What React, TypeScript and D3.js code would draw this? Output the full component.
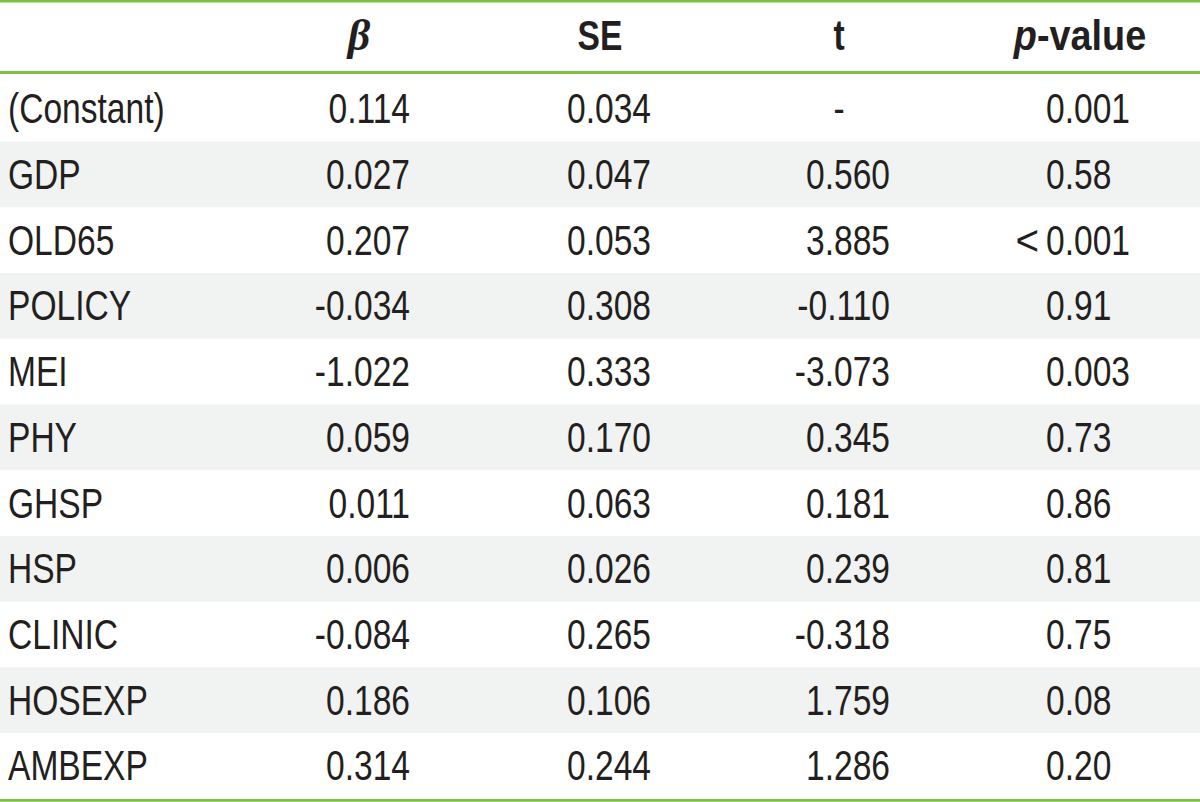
import React from "react";
import * as d3 from "d3";

const variables = ["(Constant)", "GDP", "OLD65", "POLICY", "MEI", "PHY", "GHSP", "HSP", "CLINIC", "HOSEXP", "AMBEXP"];
const betaValues = [0.114, 0.027, 0.207, -0.034, -1.022, 0.059, 0.011, 0.006, -0.084, 0.186, 0.314];
const seValues = [0.034, 0.047, 0.053, 0.308, 0.333, 0.17, 0.063, 0.026, 0.265, 0.106, 0.244];
const tValues: (number | null)[] = [null, 0.56, 3.885, -0.11, -3.073, 0.345, 0.181, 0.239, -0.318, 1.759, 1.286];
const pValues = ["0.001", "0.58", "<0.001", "0.91", "0.003", "0.73", "0.86", "0.81", "0.75", "0.08", "0.20"];

const W = 1200;
const H = 802;
const GREEN = "#7ac143";
const SHADE = "#f1f2f2";
const INK = "#231f20";
const FONT = "'Liberation Sans', Arial, sans-serif";
const FS = 42.5;
const SX = 0.79;

const locale = d3.formatLocale({ decimal: ".", thousands: ",", grouping: [3], currency: ["", ""], minus: "-" });
const fmt3 = locale.format(".3f");

function T(props: { x: number; y: number; anchor?: string; bold?: boolean; sx?: number; children: React.ReactNode }) {
  const { x, y, anchor = "start", bold = false, sx = SX, children } = props;
  return (
    <text
      transform={`translate(${x},${y}) scale(${sx},1)`}
      textAnchor={anchor}
      fontFamily={FONT}
      fontSize={FS}
      fontWeight={bold ? "bold" : "normal"}
      fill={INK}
    >
      {children}
    </text>
  );
}

export default function App() {
  const y = d3.scaleBand<number>().domain(d3.range(variables.length)).range([75.8, 798.8]).padding(0);
  const bw = y.bandwidth();
  const base = (i: number) => (y(i) as number) + bw / 2 + 14.5;

  const colBetaRight = 410;
  const colSERight = 651;
  const colTRight = 890;
  const colTCenter = 839;
  const colPStart = 1046;
  const headY = 49.5;

  return (
    <svg width={W} height={H} style={{ position: "fixed", left: 0, top: 0, display: "block", background: "#fff" }}>
      <rect x={0} y={0} width={W} height={H} fill="#fff" />
      {variables.map((v, i) =>
        i % 2 === 1 ? <rect key={"s" + i} x={0} y={y(i)} width={W} height={bw} fill={SHADE} /> : null
      )}
      {/* header */}
      <text
        x={359}
        y={headY}
        textAnchor="middle"
        fontFamily="'Liberation Serif', 'DejaVu Serif', serif"
        fontStyle="italic"
        fontWeight="bold"
        fontSize={44}
        fill={INK}
      >
        β
      </text>
      <T x={600} y={headY} anchor="middle" bold>SE</T>
      <T x={colTCenter} y={headY} anchor="middle" bold>t</T>
      <T x={1080} y={headY} anchor="middle" bold sx={0.89}>
        <tspan fontStyle="italic">p</tspan>
        <tspan>-value</tspan>
      </T>
      {/* body */}
      {variables.map((v, i) => (
        <g key={"r" + i}>
          <T x={8} y={base(i)}>{v}</T>
          <T x={colBetaRight} y={base(i)} anchor="end">{fmt3(betaValues[i])}</T>
          <T x={colSERight} y={base(i)} anchor="end">{fmt3(seValues[i])}</T>
          {tValues[i] === null ? (
            <T x={colTCenter} y={base(i)} anchor="middle">-</T>
          ) : (
            <T x={colTRight} y={base(i)} anchor="end">{fmt3(tValues[i] as number)}</T>
          )}
          {pValues[i].startsWith("<") ? (
            <>
              <T x={colPStart - 7} y={base(i)} anchor="end" sx={0.95}>&lt;</T>
              <T x={colPStart} y={base(i)}>{pValues[i].slice(1)}</T>
            </>
          ) : (
            <T x={colPStart} y={base(i)}>{pValues[i]}</T>
          )}
        </g>
      ))}
      {/* rules */}
      <line x1={0} x2={W} y1={1.3} y2={1.3} stroke={GREEN} strokeWidth={2.6} />
      <line x1={0} x2={W} y1={72.5} y2={72.5} stroke={GREEN} strokeWidth={3} />
      <line x1={0} x2={W} y1={800.3} y2={800.3} stroke={GREEN} strokeWidth={2.8} />
    </svg>
  );
}
